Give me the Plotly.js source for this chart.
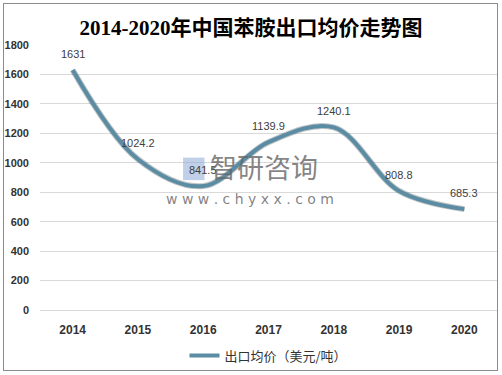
<!DOCTYPE html>
<html>
<head>
<meta charset="utf-8">
<script src="https://cdn.plot.ly/plotly-3.0.1.min.js"></script>
<style>
  html, body { margin: 0; padding: 0; background: #fff; }
  #wrap { position: relative; width: 502px; height: 375px; }
  #chart { position: absolute; left: 0; top: 0; width: 502px; height: 375px; }
  #frame { position: absolute; left: 3px; top: 3px; width: 493px; height: 366px; border: 1px solid #8c8c8c; pointer-events: none; }
</style>
</head>
<body>
<div id="wrap">
  <div id="chart"></div>
  <div id="frame"></div>
</div>
<script>
const years = ['2014', '2015', '2016', '2017', '2018', '2019', '2020'];
const prices = [1631, 1024.2, 841.5, 1139.9, 1240.1, 808.8, 685.3];
const seriesName = '出口均价（美元/吨）';
const yTicks = [0, 200, 400, 600, 800, 1000, 1200, 1400, 1600, 1800];

const shadow = {
  x: years,
  y: prices,
  type: 'scatter',
  mode: 'lines',
  showlegend: false,
  line: { color: 'rgba(50,60,70,0.3)', width: 6, shape: 'spline', smoothing: 1 },
  hoverinfo: 'skip'
};

const trace = {
  x: years,
  y: prices,
  type: 'scatter',
  mode: 'lines',
  name: seriesName,
  line: { color: '#5a8ca3', width: 4, shape: 'spline', smoothing: 1 },
  hoverinfo: 'skip'
};

const valueLabels = prices.map((v, i) => ({
  x: i, y: v, xref: 'x', yref: 'y',
  text: String(v), showarrow: false,
  yshift: 16, xanchor: 'center', yanchor: 'middle',
  font: { family: 'Liberation Sans, Arial, sans-serif', size: 11, color: '#404040' }
}));

const watermark = [
  {
    xref: 'paper', yref: 'paper', x: 0.49, y: 0.54, xanchor: 'center', yanchor: 'middle',
    text: '智研咨询', showarrow: false,
    font: { family: 'Noto Sans CJK SC, sans-serif', size: 27, color: 'rgba(100,100,100,0.8)' }
  },
  {
    xref: 'paper', yref: 'paper', x: 0.46, y: 0.42, xanchor: 'center', yanchor: 'middle',
    text: 'w w w . c h y x x . c o m', showarrow: false,
    font: { family: 'DejaVu Sans, sans-serif', size: 14, color: 'rgba(100,100,100,0.8)' }
  }
];

const layout = {
  width: 502,
  height: 375,
  margin: { l: 40, r: 5, t: 45, b: 63 },
  paper_bgcolor: '#ffffff',
  plot_bgcolor: '#ffffff',
  title: {
    text: '<b>2014-2020年中国苯胺出口均价走势图</b>',
    font: { family: 'Liberation Serif, Noto Sans CJK SC, serif', size: 21, color: '#000' },
    x: 0.5, xanchor: 'center', y: 0.925, yanchor: 'middle'
  },
  xaxis: {
    type: 'category',
    range: [-0.5, 6.5],
    showgrid: false,
    zeroline: false,
    showline: false,
    ticks: '',
    tickvals: years,
    ticktext: years.map(y => '<b>' + y + '</b>'),
    tickfont: { family: 'Liberation Sans, Arial, sans-serif', size: 12, color: '#333' },
    ticklabelstandoff: 11,
    fixedrange: true
  },
  yaxis: {
    range: [0, 1800],
    tickvals: yTicks,
    ticktext: yTicks.map(v => '<b>' + v + '</b>'),
    showgrid: true,
    gridcolor: '#d9d9d9',
    gridwidth: 1,
    zeroline: true,
    zerolinecolor: '#d9d9d9',
    showline: false,
    ticks: '',
    tickfont: { family: 'Liberation Sans, Arial, sans-serif', size: 11, color: '#333' },
    ticklabelstandoff: 10,
    fixedrange: true
  },
  showlegend: true,
  legend: {
    orientation: 'h',
    x: 0.5, xanchor: 'center',
    y: -0.115, yanchor: 'top',
    font: { family: 'Noto Sans CJK SC, sans-serif', size: 13, color: '#333' },
    itemwidth: 30
  },
  shapes: [
    {
      type: 'rect', xref: 'paper', yref: 'paper',
      x0: 0.313, x1: 0.36, y0: 0.49, y1: 0.575,
      line: { width: 0 }, fillcolor: 'rgba(140,170,215,0.55)', layer: 'above'
    }
  ],
  annotations: valueLabels.concat(watermark)
};

Plotly.newPlot('chart', [shadow, trace], layout, { displayModeBar: false, staticPlot: true });
</script>
</body>
</html>
